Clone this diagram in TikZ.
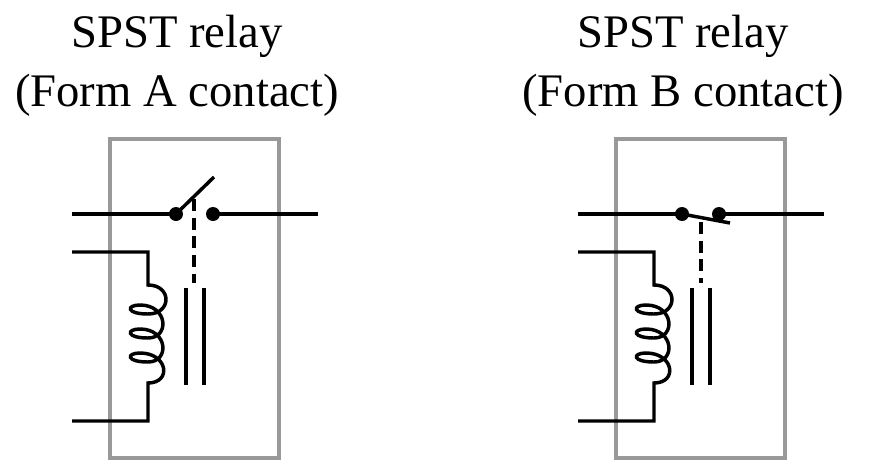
\documentclass[tikz,border=0pt]{standalone}
\usepackage{fontspec}
\setmainfont{Liberation Serif}
\begin{document}
\begin{tikzpicture}[x=0.75pt,y=-0.75pt,
  wire/.style={line width=2.6pt,line cap=butt},
  frame/.style={draw=black!40,line width=2.4pt},
  dot/.style={circle,fill=black,inner sep=0pt,minimum size=10.5pt},
  title/.style={font=\fontsize{35}{44}\selectfont,align=center}]
\useasboundingbox (0,0) rectangle (896,475);
\foreach \ox/\nm/\lbl in {0/a/A,506/b/B}{
\begin{scope}[xshift=\ox*0.75pt]
\node[title] (t\nm) at (177,66) {SPST relay\\(Form \lbl\ contact)};
\draw[frame] (110,139) rectangle (279,458);
\coordinate (L\nm) at (72,214);
\coordinate (R\nm) at (318,214);
\node[dot] (d1\nm) at (176,214) {};
\node[dot] (d2\nm) at (213,214) {};
\draw[wire] (L\nm) -- (d1\nm.center);
\draw[wire] (d2\nm.center) -- (R\nm);
\coordinate (c1\nm) at (72,252);
\coordinate (c2\nm) at (72,421);
\draw[wire] (c1\nm) -- (148,252) -- (148,285)
  .. controls (172,285) and (172,314) .. (148,314)
  .. controls (126,314) and (126,305) .. (140,305)
  .. controls (168,305) and (170,338) .. (148,338)
  .. controls (126,338) and (126,329) .. (140,329)
  .. controls (168,329) and (170,362) .. (148,362)
  .. controls (126,362) and (126,353) .. (140,353)
  .. controls (168,353) and (172,383) .. (148,383)
  -- (148,421) -- (c2\nm);
\draw[wire] (186,288) -- (186,385);
\draw[wire] (204,288) -- (204,385);
\end{scope}}
\draw[wire] (d1a.center) -- (214,177);
\draw[wire,dash pattern=on 9pt off 5pt] (194,199) -- (194,283);
\draw[wire] (d1b.center) -- (730,223);
\draw[wire,dash pattern=on 9pt off 5pt] (701,222) -- (701,283);
\end{tikzpicture}
\end{document}
